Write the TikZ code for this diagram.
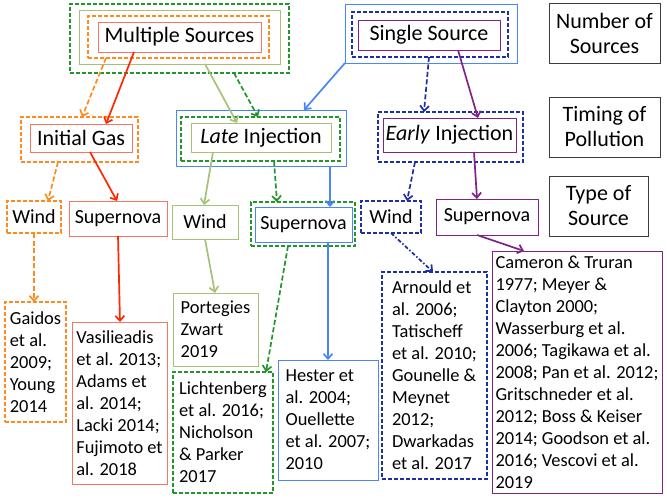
\documentclass[tikz,border=0pt]{standalone}
\usepackage{fontspec}
\setmainfont{Carlito}
\usetikzlibrary{arrows.meta}
\definecolor{cred}{RGB}{255,40,0}
\definecolor{csalmon}{RGB}{242,120,100}
\definecolor{corange}{RGB}{255,138,30}
\definecolor{clgreen}{RGB}{165,194,120}
\definecolor{cdgreen}{RGB}{34,150,42}
\definecolor{cblue}{RGB}{74,134,245}
\definecolor{cdblue}{RGB}{30,47,165}
\definecolor{cpurple}{RGB}{125,36,133}
\definecolor{cgray}{RGB}{60,60,60}
\tikzset{
  frame/.style={draw, anchor=north west, inner sep=0pt, outer sep=0pt, line width=0.9pt},
  dfr/.style={frame, line width=1.4pt, dash pattern=on 4pt off 2pt},
  hdr/.style={font=\fontsize{22}{26}\selectfont},
  lvl/.style={font=\fontsize{20}{24}\selectfont},
  ref/.style={font=\fontsize{18.4}{22}\selectfont, align=left},
  leg/.style={font=\fontsize{22}{25}\selectfont, align=center},
  arr/.style={line width=1.7pt, -{Straight Barb[length=5pt,width=9pt]}},
  darr/.style={arr, dash pattern=on 5pt off 2.5pt},
  ddarr/.style={arr, dash pattern=on 4pt off 2pt on 1.5pt off 2pt},
}
\begin{document}
\begin{tikzpicture}[x=1pt,y=-1pt]
\useasboundingbox (0,0) rectangle (667,500);
% Level 1
\node[dfr, cdgreen, minimum width=219pt, minimum height=69pt] (ms4) at (70,4) {};
\node[frame, clgreen, minimum width=201pt, minimum height=54pt] (ms3) at (79,10) {};
\node[dfr, corange, minimum width=181pt, minimum height=42pt] (ms2) at (88,16) {};
\node[frame, csalmon, minimum width=163pt, minimum height=30pt, text=black, hdr] (ms1) at (98,22) {Multiple Sources};
\node[frame, cblue, minimum width=172pt, minimum height=59pt] (ss3) at (345,4) {};
\node[dfr, cdblue, minimum width=156pt, minimum height=45pt] (ss2) at (352,12) {};
\node[frame, cpurple, minimum width=142pt, minimum height=30pt, text=black, hdr] (ss1) at (358,20) {Single Source};
% Legend
\node[frame, cgray, minimum width=111pt, minimum height=60pt, text=black, leg] (leg1) at (549,3) {Number of\\Sources};
\node[frame, cgray, minimum width=111pt, minimum height=60pt, text=black, leg] (leg2) at (549,97) {Timing of\\Pollution};
\node[frame, cgray, minimum width=99pt, minimum height=60pt, text=black, leg] (leg3) at (549,176) {Type of\\Source};
% Level 2
\node[dfr, corange, minimum width=117pt, minimum height=45pt] (ig2) at (21,117) {};
\node[frame, csalmon, minimum width=102pt, minimum height=28pt, text=black, hdr] (ig1) at (30,124) {Initial Gas};
\node[frame, cblue, minimum width=170pt, minimum height=56pt] (li3) at (176,110) {};
\node[dfr, cdgreen, minimum width=159pt, minimum height=44pt] (li2) at (181,117) {};
\node[frame, clgreen, minimum width=140pt, minimum height=29pt, text=black, hdr] (li1) at (191,123) {\textit{Late} Injection};
\node[dfr, cdblue, minimum width=145pt, minimum height=50pt] (ei2) at (378,112) {};
\node[frame, cpurple, minimum width=133pt, minimum height=34pt, text=black, hdr] (ei1) at (383,118) {\textit{Early} Injection};
% Level 3
\node[dfr, corange, minimum width=54pt, minimum height=32pt, text=black, lvl] (w1) at (7,201) {Wind};
\node[frame, csalmon, minimum width=98pt, minimum height=35pt, text=black, lvl] (sn1) at (69,201) {Supernova};
\node[frame, clgreen, minimum width=66pt, minimum height=34pt, text=black, lvl] (w2) at (172,205) {Wind};
\node[dfr, cdgreen, minimum width=104pt, minimum height=44pt] (sn2o) at (251,202) {};
\node[frame, cblue, minimum width=97pt, minimum height=35pt, text=black, lvl] (sn2i) at (255,207) {Supernova};
\node[dfr, cdblue, minimum width=60pt, minimum height=32pt, text=black, lvl] (w3) at (361,201) {Wind};
\node[frame, cpurple, minimum width=102pt, minimum height=36pt, text=black, lvl] (sn3) at (436,199) {Supernova};
% Level 4
\node[dfr, corange, minimum width=61pt, minimum height=120pt, text=black, ref] (r1) at (5,302) {Gaidos\\et al.\\2009;\\Young\\2014};
\node[frame, csalmon, minimum width=95pt, minimum height=162pt, text=black, ref] (r2) at (72,322) {Vasilieadis\\et al. 2013;\\Adams et\\al. 2014;\\Lacki 2014;\\Fujimoto et\\al. 2018};
\node[frame, clgreen, minimum width=85pt, minimum height=73pt, text=black, ref] (r3) at (173,293) {Portegies\\Zwart\\2019};
\node[dfr, cdgreen, minimum width=100pt, minimum height=121pt, text=black, ref] (r4) at (173,372) {Lichtenberg\\et al. 2016;\\Nicholson\\\& Parker\\2017};
\node[frame, cblue, minimum width=100pt, minimum height=120pt, text=black, ref] (r5) at (278,360) {Hester et\\al. 2004;\\Ouellette\\et al. 2007;\\2010};
\node[dfr, cdblue, minimum width=105pt, minimum height=207pt, text=black, ref] (r6) at (382,272) {Arnould et\\al. 2006;\\Tatischeff\\et al. 2010;\\Gounelle \&\\Meynet\\2012;\\Dwarkadas\\et al. 2017};
\node[frame, cpurple, minimum width=170pt, minimum height=242pt, text=black, ref] (r7) at (492,251) {Cameron \& Truran\\1977; Meyer \&\\Clayton 2000;\\Wasserburg et al.\\2006; Tagikawa et al.\\2008; Pan et al. 2012;\\Gritschneder et al.\\2012; Boss \& Keiser\\2014; Goodson et al.\\2016; Vescovi et al.\\2019};
% Connectors level 1 -> 2
\draw[darr, corange] ([xshift=18pt]ms2.south west) -- ([xshift=61pt]ig2.north west);
\draw[arr, cred] ([xshift=36pt]ms1.south west) -- ([xshift=76pt]ig1.north west);
\draw[arr, clgreen] ([xshift=126pt]ms3.south west) -- ([xshift=46pt]li1.north west);
\draw[darr, cdgreen] ([xshift=164pt]ms4.south west) -- ([xshift=77pt]li2.north west);
\draw[arr, cblue] (ss3.south west) -- ([xshift=128pt]li3.north west);
\draw[darr, cdblue] ([xshift=77pt]ss2.south west) -- ([xshift=46pt]ei2.north west);
\draw[arr, cpurple] ([xshift=100pt]ss1.south west) -- ([xshift=95pt]ei1.north west);
% Connectors level 2 -> 3
\draw[darr, corange] ([xshift=37pt]ig2.south west) -- ([xshift=41pt]w1.north west);
\draw[arr, cred] ([xshift=60pt]ig1.south west) -- ([xshift=48pt]sn1.north west);
\draw[arr, clgreen] ([xshift=22pt]li1.south west) -- ([xshift=32pt]w2.north west);
\draw[darr, cdgreen] ([xshift=93pt]li2.south west) -- ([xshift=26pt]sn2o.north west);
\draw[arr, cblue] ([xshift=154pt]li3.south west) -- ([xshift=75pt]sn2i.north west);
\draw[darr, cdblue] ([xshift=37pt]ei2.south west) -- ([xshift=46pt]w3.north west);
\draw[arr, cpurple] ([xshift=91pt]ei1.south west) -- ([xshift=41pt]sn3.north west);
% Connectors level 3 -> 4
\draw[darr, corange] ([xshift=27pt]w1.south west) -- ([xshift=29pt]r1.north west);
\draw[arr, cred] ([xshift=49pt]sn1.south west) -- ([xshift=48pt]r2.north west);
\draw[arr, clgreen] ([xshift=33pt]w2.south west) -- ([xshift=42pt]r3.north west);
\draw[darr, cdgreen] ([xshift=37pt]sn2o.south west) -- ([xshift=93pt]r4.north west);
\draw[arr, cblue] ([xshift=73pt]sn2i.south west) -- ([xshift=50pt]r5.north west);
\draw[ddarr, cdblue] ([xshift=30pt]w3.south west) -- ([xshift=51pt]r6.north west);
\draw[arr, cpurple] ([xshift=41pt]sn3.south west) -- ([xshift=32pt]r7.north west);
\end{tikzpicture}
\end{document}
